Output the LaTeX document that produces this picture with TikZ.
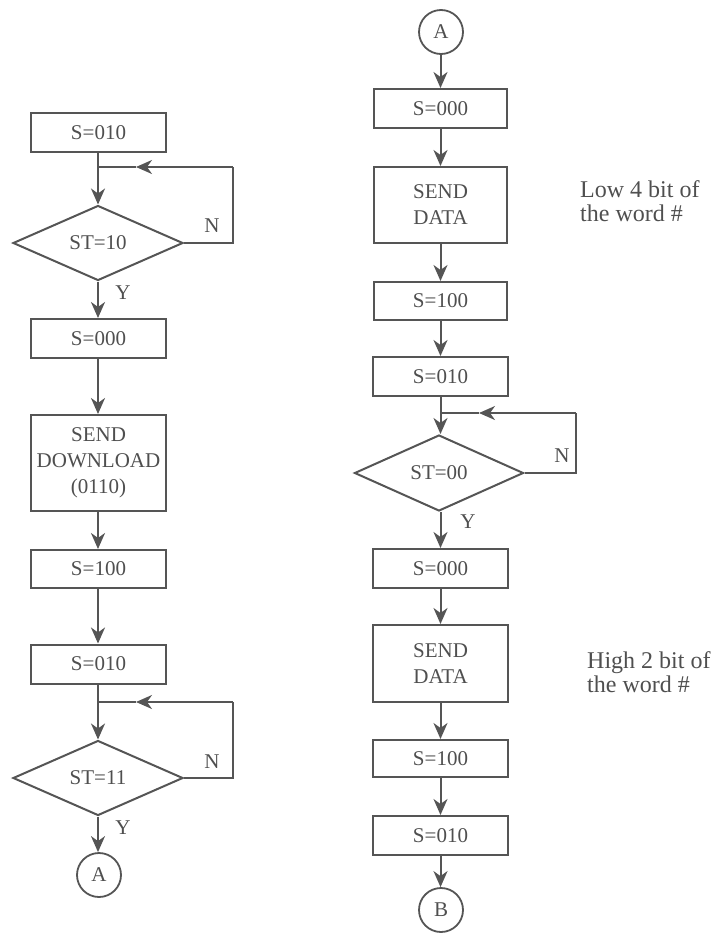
\documentclass[tikz,border=0pt]{standalone}
\usepackage{fontspec}
\setmainfont{Liberation Serif}
\usetikzlibrary{arrows.meta,shapes.geometric}
\definecolor{lc}{HTML}{555555}
\definecolor{tc}{HTML}{4F4F4F}
\begin{document}
\begin{tikzpicture}[x=1pt,y=-1pt,
  every node/.style={text=tc},
  boxn/.style={draw=lc, line width=2pt, fill=white, minimum width=135pt, inner sep=0pt, align=center, font=\fontsize{21}{26}\selectfont},
  dian/.style={diamond, draw=lc, line width=2pt, fill=white, minimum width=170pt, minimum height=75pt, inner sep=0pt, font=\fontsize{21}{26}\selectfont},
  conn/.style={circle, draw=lc, line width=1.8pt, minimum size=44pt, inner sep=0pt, font=\fontsize{21}{24}\selectfont},
  lbl/.style={font=\fontsize{21}{24}\selectfont, inner sep=0pt},
  side/.style={font=\fontsize{24}{24}\selectfont, align=left, inner sep=0pt, anchor=base west},
  ln/.style={draw=lc, line width=2pt},
  arr/.style={draw=lc, line width=2pt, -{Stealth[length=16pt,width=14pt,inset=5pt]}}]
\useasboundingbox (0,0) rectangle (725,937);
% left column
\node[boxn, minimum height=39pt] (b1) at (98.5,132.5) {S=010};
\node[dian] (d1) at (98,243) {ST=10};
\node[boxn, minimum height=39pt] (b2) at (98.5,338.5) {S=000};
\node[boxn, minimum height=96pt] (b3) at (98.5,463) {SEND\\DOWNLOAD\\(0110)};
\node[boxn, minimum height=38pt] (b4) at (98.5,569) {S=100};
\node[boxn, minimum height=39pt] (b5) at (98.5,664) {S=010};
\node[dian] (d2) at (98,778) {ST=11};
\node[conn] (cA) at (99,875) {A};
% right column
\node[conn] (cA2) at (441,32) {A};
\node[boxn, minimum height=39pt, minimum width=133pt] (r1) at (440.5,108.5) {S=000};
\node[boxn, minimum height=76pt, minimum width=133pt] (r2) at (440.5,205) {SEND\\DATA};
\node[boxn, minimum height=38pt, minimum width=133pt] (r3) at (440.5,301) {S=100};
\node[boxn, minimum height=39pt] (r4) at (440.5,376.5) {S=010};
\node[dian, minimum width=169pt, minimum height=76pt] (d3) at (439,473) {ST=00};
\node[boxn, minimum height=39pt] (r5) at (440.5,568.5) {S=000};
\node[boxn, minimum height=77pt] (r6) at (440.5,663.5) {SEND\\DATA};
\node[boxn, minimum height=37pt] (r7) at (440.5,758.5) {S=100};
\node[boxn, minimum height=39pt] (r8) at (440.5,835.5) {S=010};
\node[conn] (cB) at (441,910) {B};
% side notes
\node[side] (n1) at (580,221) {Low 4 bit of\\the word \#};
\node[side] (n2) at (587,692) {High 2 bit of\\the word \#};
% labels
\node[lbl] (N1) at (212,226) {N};
\node[lbl] (Y1) at (123,293) {Y};
\node[lbl] (N2) at (212,762) {N};
\node[lbl] (Y2) at (123,828) {Y};
\node[lbl] (N3) at (562,456) {N};
\node[lbl] (Y3) at (468,522) {Y};
% loop coordinates
\coordinate (l1a) at (233,167);
\coordinate (l1m) at (136,167);
\coordinate (l1j) at (98,167);
\coordinate (l2a) at (233,702);
\coordinate (l2m) at (136,702);
\coordinate (l2j) at (98,702);
\coordinate (l3a) at (576,413);
\coordinate (l3m) at (479,413);
\coordinate (l3j) at (440.5,413);
% left connectors
\draw[arr] (b1.south -| d1.north) -- (d1.north);
\draw[ln] (d1.east) -| (l1a);
\draw[arr] (l1a) -- (l1m);
\draw[ln] (l1m) -- (l1j);
\draw[arr] (d1.south) -- (d1.south |- b2.north);
\draw[arr] (b2.south -| d1.north) -- (d1.north |- b3.north);
\draw[arr] (b3.south -| d1.north) -- (d1.north |- b4.north);
\draw[arr] (b4.south -| d1.north) -- (d1.north |- b5.north);
\draw[arr] (b5.south -| d2.north) -- (d2.north);
\draw[ln] (d2.east) -| (l2a);
\draw[arr] (l2a) -- (l2m);
\draw[ln] (l2m) -- (l2j);
\draw[arr] (d2.south) -- (d2.south |- cA.north);
% right connectors
\draw[arr] (cA2.south -| r1.north) -- (r1.north);
\draw[arr] (r1.south) -- (r2.north);
\draw[arr] (r2.south) -- (r3.north);
\draw[arr] (r3.south) -- (r4.north);
\draw[arr] (r4.south) -- (r4.south |- d3.north);
\draw[ln] (d3.east) -| (l3a);
\draw[arr] (l3a) -- (l3m);
\draw[ln] (l3m) -- (l3j);
\draw[arr] (d3.south -| r5.north) -- (r5.north);
\draw[arr] (r5.south) -- (r6.north);
\draw[arr] (r6.south) -- (r7.north);
\draw[arr] (r7.south) -- (r8.north);
\draw[arr] (r8.south) -- (r8.south |- cB.north);
\end{tikzpicture}
\end{document}
